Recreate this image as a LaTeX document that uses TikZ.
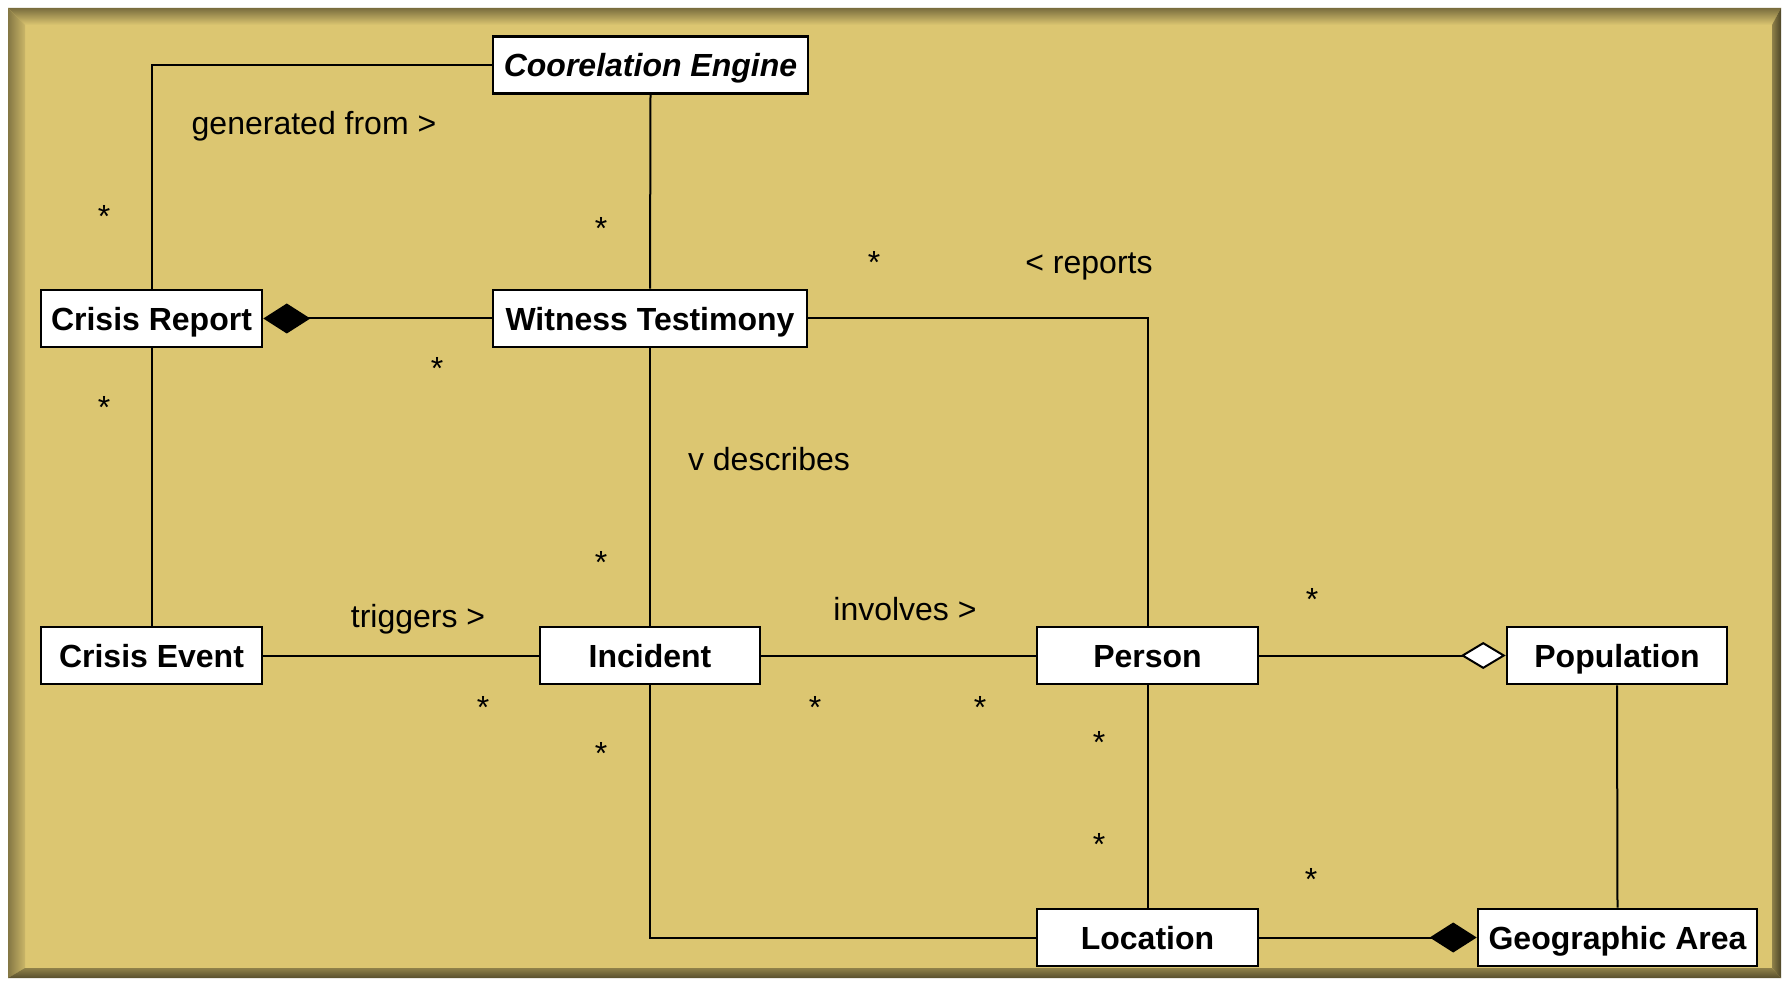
\documentclass[tikz,border=0pt]{standalone}
\usepackage{fontspec}
\setmainfont{Liberation Sans}
\usetikzlibrary{arrows.meta}
\definecolor{bgfill}{HTML}{DCC671}
\begin{document}
\begin{tikzpicture}[x=1pt,y=-1pt,
  cls/.style={draw=black, line width=2.6pt, fill=white, minimum height=57pt, inner sep=0pt,
    text height=24pt, text depth=0pt,
    font=\fontsize{32}{38}\selectfont\bfseries},
  lbl/.style={inner sep=0pt, font=\fontsize{32}{38}\selectfont},
  wlbl/.style={lbl, text height=23pt, text depth=0pt},
  conn/.style={draw=black, line width=2pt},
  comp/.style={conn, -{Diamond[length=47pt,width=30pt,fill=black]}},
  aggr/.style={conn, -{Diamond[open,length=45pt,width=27pt,fill=white]}}
]
\useasboundingbox (0,0) rectangle (1789,984);
% frame
\fill[bgfill] (8,8) rectangle (1781,978);
\shade[top color=black!45!bgfill, middle color=yellow!35!bgfill!85!white, bottom color=bgfill]
  (8,8) -- (1781,8) -- (1772,25) -- (25,25) -- cycle;
\shade[left color=black!40!bgfill, right color=black!8!bgfill]
  (8,8) -- (25,25) -- (25,968) -- (8,978) -- cycle;
\shade[left color=black!35!bgfill, right color=black!65!bgfill]
  (1781,8) -- (1781,978) -- (1772,968) -- (1772,25) -- cycle;
\shade[top color=black!35!bgfill, bottom color=black!60!bgfill]
  (8,978) -- (1781,978) -- (1772,968) -- (25,968) -- cycle;

% classes
\node[cls, minimum width=315pt, font=\fontsize{32}{38}\selectfont\bfseries\itshape] (ce) at (650.5,65) {Coorelation Engine};
\node[cls, minimum width=221pt] (cr) at (151.5,318.5) {Crisis Report};
\node[cls, minimum width=314pt] (wt) at (650,318.5) {Witness Testimony};
\node[cls, minimum width=221pt] (cev) at (151.5,655.5) {Crisis Event};
\node[cls, minimum width=220pt] (inc) at (650,655.5) {Incident};
\node[cls, minimum width=221pt] (per) at (1147.5,655.5) {Person};
\node[cls, minimum width=220pt] (pop) at (1617,655.5) {Population};
\node[cls, minimum width=221pt] (loc) at (1147.5,937.5) {Location};
\node[cls, minimum width=279pt] (ga) at (1617.5,937.5) {Geographic Area};

% connectors
\draw[conn] (ce.west) -| (cr.north);
\draw[conn] (ce.south) -- (wt.north);
\draw[comp] (wt.west) -- (cr.east);
\draw[conn] (wt.east) -| (per.north);
\draw[conn] (wt.south) -- (inc.north);
\draw[conn] (cr.south) -- (cev.north);
\draw[conn] (cev.east) -- (inc.west);
\draw[conn] (inc.east) -- (per.west);
\draw[aggr] (per.east) -- (pop.west);
\draw[conn] (pop.south) -- (ga.north);
\draw[conn] (per.south) -- (loc.north);
\draw[conn] (inc.south) |- (loc.west);
\draw[comp] (loc.east) -- (ga.west);

% labels
\node[wlbl] (l1) at (314,123) {generated from >};
\node[wlbl] (l2) at (1089,262) {< reports};
\node[wlbl] (l3) at (769,459) {v describes};
\node[wlbl] (l4) at (418,616) {triggers >};
\node[wlbl] (l5) at (905,609) {involves >};
\node[lbl] (m1) at (104,216) {*};
\node[lbl] (m2) at (601,228) {*};
\node[lbl] (m3) at (874,262) {*};
\node[lbl] (m4) at (437,368) {*};
\node[lbl] (m5) at (104,407) {*};
\node[lbl] (m6) at (601,562) {*};
\node[lbl] (m7) at (1312,599) {*};
\node[lbl] (m8) at (483,707) {*};
\node[lbl] (m9) at (815,707) {*};
\node[lbl] (m10) at (980,707) {*};
\node[lbl] (m11) at (601,753) {*};
\node[lbl] (m12) at (1099,742) {*};
\node[lbl] (m13) at (1099,844) {*};
\node[lbl] (m14) at (1311,879) {*};
\end{tikzpicture}
\end{document}
